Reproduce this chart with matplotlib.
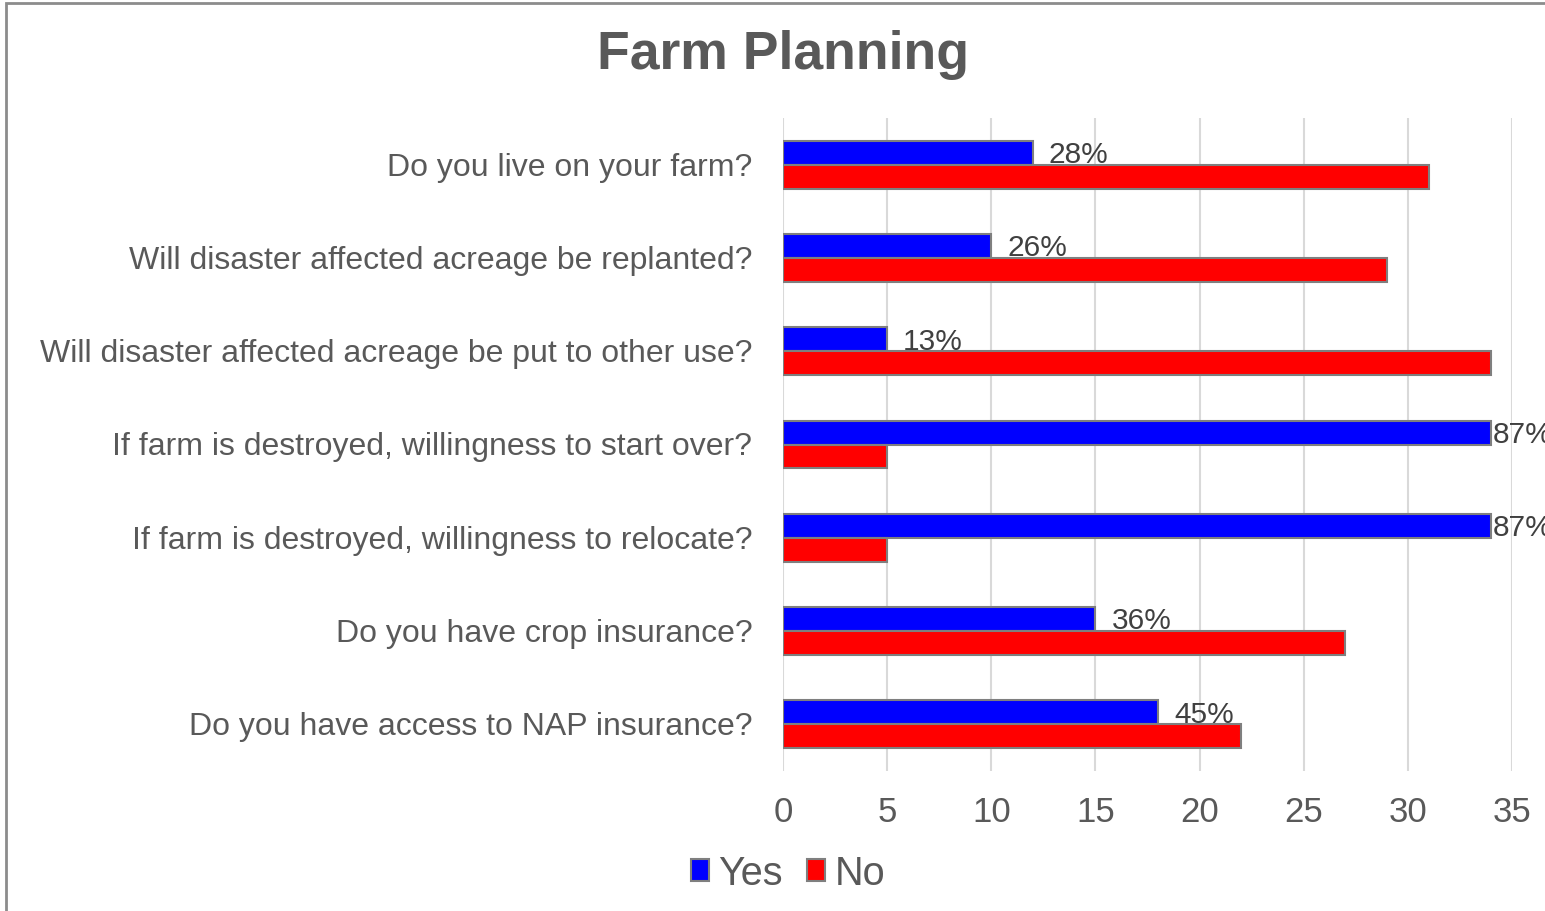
import matplotlib
matplotlib.use("Agg")
import matplotlib.pyplot as plt
import matplotlib.transforms as mtransforms
import numpy as np
from matplotlib.patches import Rectangle

plt.rcParams['font.family'] = ['Liberation Sans', 'DejaVu Sans']

categories = [
    "Do you live on your farm?",
    "Will disaster affected acreage be replanted?",
    "Will disaster affected acreage be put to other use?",
    "If farm is destroyed, willingness to start over?",
    "If farm is destroyed, willingness to relocate?",
    "Do you have crop insurance?",
    "Do you have access to NAP insurance?",
]
yes_values = [12, 10, 5, 34, 34, 15, 18]
no_values = [31, 29, 34, 5, 5, 27, 22]
yes_pct_labels = ["28%", "26%", "13%", "87%", "87%", "36%", "45%"]
series_names = ["Yes", "No"]
xticks = [0, 5, 10, 15, 20, 25, 30, 35]

W, H = 1545, 912
fig = plt.figure(figsize=(W / 100, H / 100), dpi=100)
ax = fig.add_axes([783 / W, 1 - 772 / H, (1512 - 783) / W, (772 - 119) / H])

y = np.arange(len(categories))
h = 0.257
edge = "#7f7f7f"
ax.barh(y - h / 2, yes_values, height=h, color="#0000FF", edgecolor=edge,
        linewidth=1.5, label=series_names[0], zorder=3)
ax.barh(y + h / 2, no_values, height=h, color="#FF0000", edgecolor=edge,
        linewidth=1.5, label=series_names[1], zorder=3)

for yi, v, lab in zip(y, yes_values, yes_pct_labels):
    pad = 1.4 if v > 30 else 11.5
    ax.annotate(lab, xy=(v, yi - h / 2), xytext=(pad, -1), textcoords="offset points",
                va="center", ha="left", fontsize=21.5, color="#404040",
                annotation_clip=False, zorder=4)

ax.set_xlim(0, 35)
ax.set_ylim(len(categories) - 0.5, -0.5)
ax.set_xticks(xticks)
ax.set_yticks(y)
ax.set_yticklabels(categories)
ax.tick_params(axis="y", length=0, pad=22, labelsize=23, labelcolor="#595959")
ax.tick_params(axis="x", length=0, pad=17, labelsize=25, labelcolor="#595959")
shift = mtransforms.ScaledTranslation(0, -2 / 100, fig.dpi_scale_trans)
for t in ax.get_yticklabels():
    t.set_verticalalignment("center")
    t.set_transform(t.get_transform() + shift)
ax.grid(axis="x", color="#d9d9d9", linewidth=1.5, zorder=0)
for s in ax.spines.values():
    s.set_visible(False)

fig.text(783 / W, 1 - 69 / H, "Farm Planning", ha="center", va="baseline",
         fontsize=38.5, fontweight="bold", color="#595959")

leg = fig.legend(loc="center", bbox_to_anchor=(788 / W, 1 - 874 / H), ncol=2,
                 frameon=False, fontsize=28.5, handlelength=0.45, handleheight=0.45,
                 handletextpad=0.25, columnspacing=0.6, labelcolor="#595959")
for p in leg.get_patches():
    p.set_edgecolor("#7f7f7f")
    p.set_linewidth(1.5)

fig.patches.append(Rectangle((6 / W, -0.1), 1.2, 1.1 - 4 / H, transform=fig.transFigure,
                             fill=False, edgecolor="#8c8c8c", linewidth=2))

fig.savefig("out.png", dpi=100)
